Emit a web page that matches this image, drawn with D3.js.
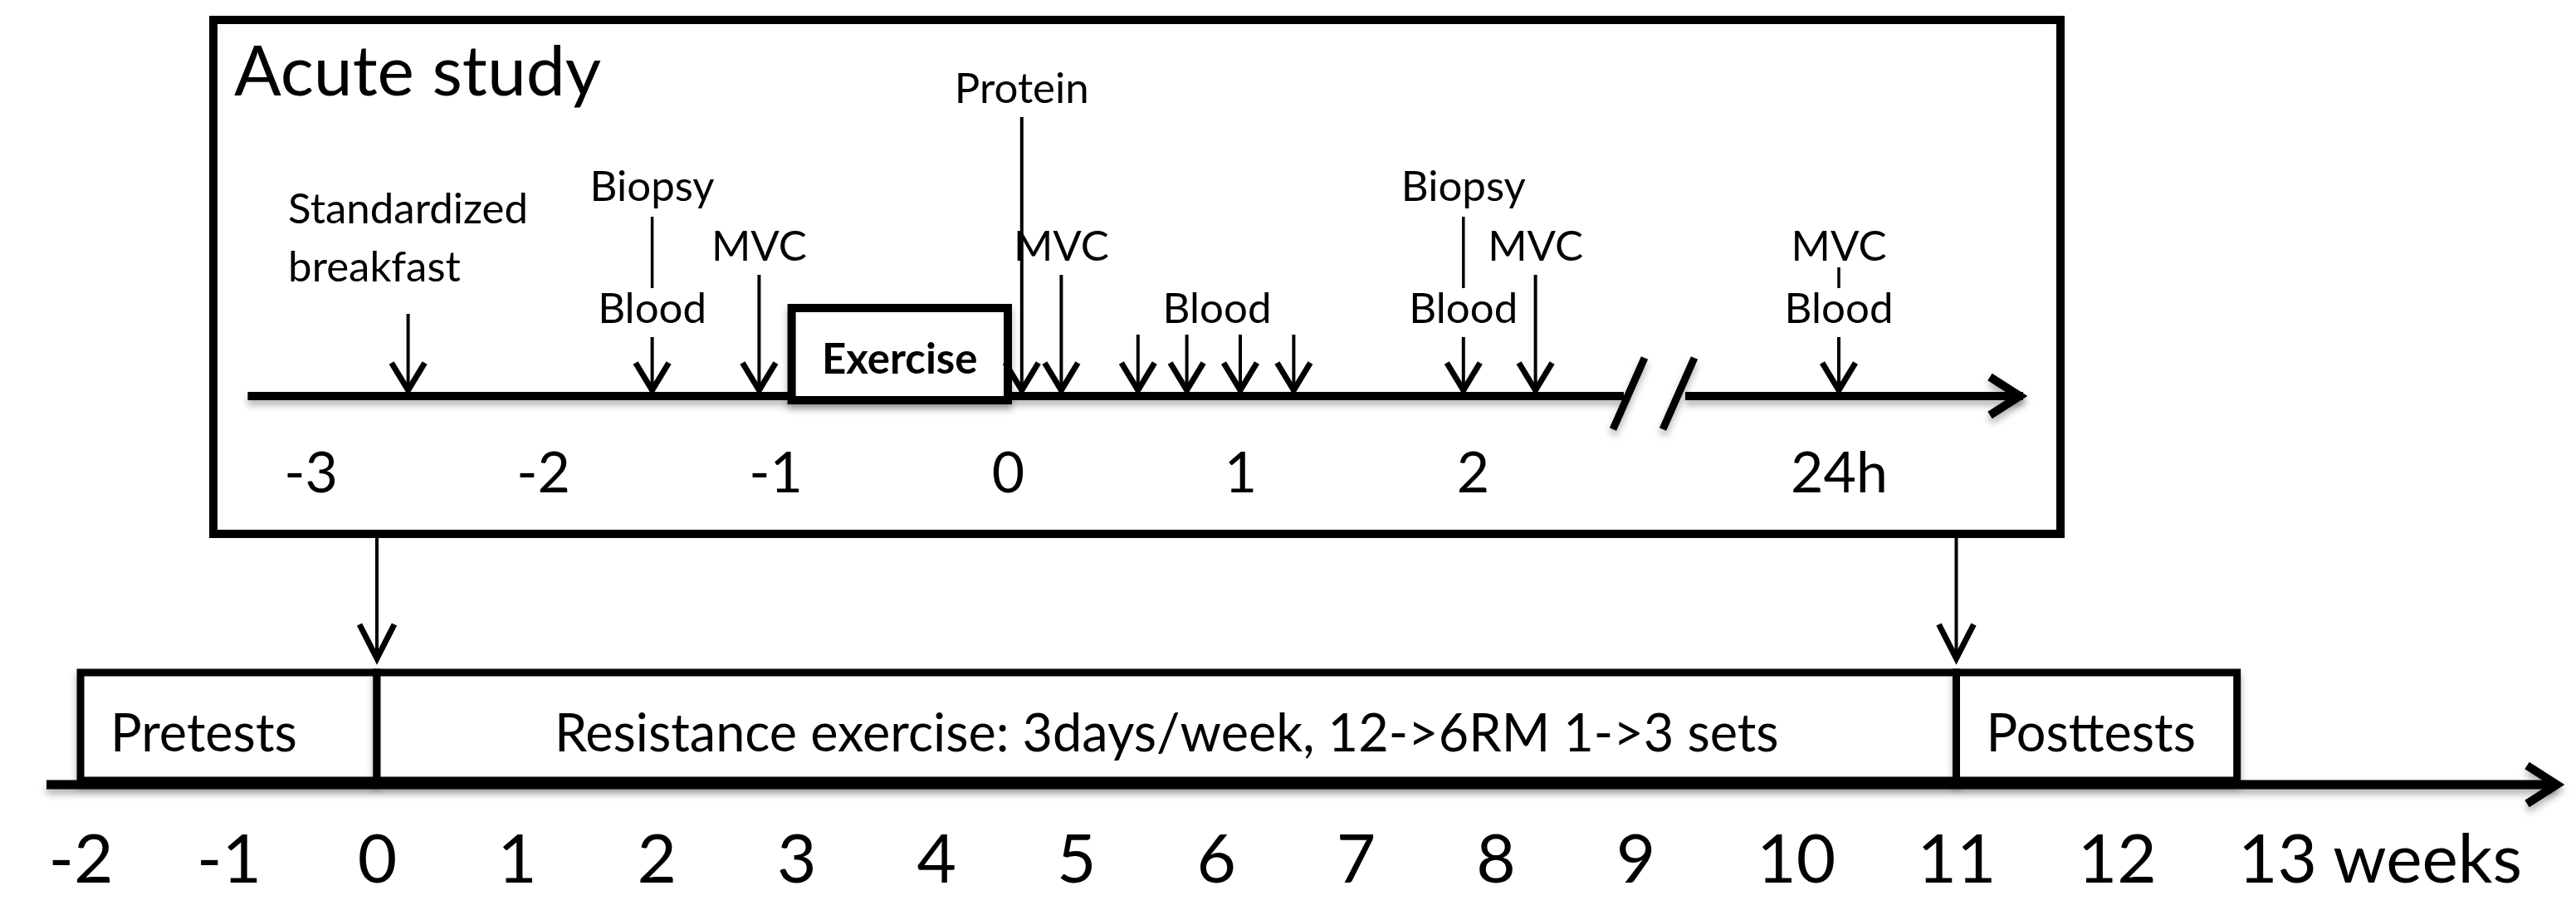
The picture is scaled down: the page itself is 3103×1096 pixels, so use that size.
<!DOCTYPE html>
<html>
<head>
<meta charset="utf-8">
<script src="https://cdn.jsdelivr.net/npm/d3@7"></script>
<style>
  body { margin: 0; background: #fff; }
  svg { display: block; }
  text { font-family: Lato, "Open Sans", sans-serif; fill: #000; }
</style>
</head>
<body>
<div id="timeline"></div>
<script>

// Study design: acute study (hours) on top, training weeks below

// Acute study data (hours relative to end of exercise)
const acuteTicks = [-3, -2, -1, 0, 1, 2, 24];
const eventLabels = ["Standardized\nbreakfast", "Biopsy|Blood", "MVC", "Protein", "MVC", "Blood", "Biopsy|Blood", "MVC", "MVC|Blood"];
const eventHours = [-2.58, -1.53, -1.07, 0.06, 0.23, 0.9, 1.96, 2.27, 24];
const bloodSampleHours = [0.56, 0.77, 1.0, 1.23];
const exerciseHours = [-0.93, 0];

// Training study data (weeks)
const weekTicks = [-2, -1, 0, 1, 2, 3, 4, 5, 6, 7, 8, 9, 10, 11, 12, 13];
const phaseNames = ["Pretests", "Resistance exercise: 3days/week, 12->6RM 1->3 sets", "Posttests"];
const phaseStart = [-2, 0, 11];
const phaseEnd = [0, 11, 12.75];
const acuteStudyWeeks = [0, 11];

// Dimensions
const width = 3103;
const height = 1096;
const acuteY = 477;      // acute time line
const weekY = 945;       // training time line
const box = {x: 257, y: 24, w: 2225, h: 619};
const labelSize = 51;

// label rows (baselines) for each measurement word
const rowBaseline = {Protein: 124, Biopsy: 242, MVC: 314, Blood: 389};

const svg = d3.select("#timeline")
  .append("svg")
  .attr("width", width)
  .attr("height", height)
  .attr("viewBox", [0, 0, width, height]);

// soft shadow like the original drawing (user space so flat lines keep it)
svg.append("defs").append("filter")
    .attr("id", "shadow")
    .attr("filterUnits", "userSpaceOnUse")
    .attr("x", 0).attr("y", 0)
    .attr("width", width).attr("height", height)
  .append("feDropShadow")
    .attr("dx", 0).attr("dy", 6)
    .attr("stdDeviation", 4)
    .attr("flood-color", "#000")
    .attr("flood-opacity", 0.3);

// Scales: broken axis for the acute study, slightly uneven weeks
const hourScale = d3.scaleLinear()
  .domain([-3, 2.65, 23.35, 24])
  .range([374, 1956, 2030, 2215]);

const weekScale = d3.scaleLinear()
  .domain([-2, 0, 9, 13])
  .range([97, 454, 1970, 2743]);

// draw a thin down arrow with an open V head
function downArrow(g, x, y0, y1, hw, hh) {
  g.append("line")
    .attr("x1", x).attr("x2", x)
    .attr("y1", y0).attr("y2", y1 - 2)
    .attr("stroke", "#000")
    .attr("stroke-width", 4);
  g.append("path")
    .attr("d", `M${x - hw},${y1 - hh}L${x},${y1 - 4}L${x + hw},${y1 - hh}`)
    .attr("fill", "none")
    .attr("stroke", "#000")
    .attr("stroke-width", 7)
    .attr("stroke-linejoin", "miter");
}

// gap under a word before a connector line starts
const descent = w => /[gjpqy]/.test(w) ? 19 : 8;

/*

  Acute study box

*/

svg.append("rect")
  .attr("x", box.x)
  .attr("y", box.y)
  .attr("width", box.w)
  .attr("height", box.h)
  .attr("fill", "none")
  .attr("stroke", "#000")
  .attr("stroke-width", 10);

svg.append("text")
  .attr("x", 282)
  .attr("y", 115)
  .attr("font-size", 84)
  .text("Acute study");

const acute = svg.append("g");

// time line in two pieces around the break
const lineSegs = [[-3.27, 2.65], [23.35, 24.78]];
acute.selectAll(".seg")
  .data(lineSegs)
  .enter()
  .append("line")
    .attr("class", "seg")
    .attr("x1", d => hourScale(d[0]))
    .attr("x2", d => hourScale(d[1]))
    .attr("y1", acuteY)
    .attr("y2", acuteY)
    .attr("stroke", "#000")
    .attr("stroke-width", 10)
    .attr("filter", "url(#shadow)");

// break marks
const breakX = [hourScale(2.65) + 6, hourScale(23.35) - 8];
acute.selectAll(".brk")
  .data(breakX)
  .enter()
  .append("line")
    .attr("class", "brk")
    .attr("x1", d => d + 19)
    .attr("y1", acuteY - 46)
    .attr("x2", d => d - 19)
    .attr("y2", acuteY + 40)
    .attr("stroke", "#000")
    .attr("stroke-width", 9)
    .attr("filter", "url(#shadow)");

// arrow head at the end of the time line
const endX = hourScale(24.78);
acute.append("path")
  .attr("d", `M${endX - 40},${acuteY - 23}L${endX - 4},${acuteY}L${endX - 40},${acuteY + 23}`)
  .attr("fill", "none")
  .attr("stroke", "#000")
  .attr("stroke-width", 10)
  .attr("filter", "url(#shadow)");

// exercise bout
acute.append("rect")
  .attr("x", hourScale(exerciseHours[0]))
  .attr("y", 371)
  .attr("width", hourScale(exerciseHours[1]) - hourScale(exerciseHours[0]))
  .attr("height", 111)
  .attr("fill", "#fff")
  .attr("stroke", "#000")
  .attr("stroke-width", 10)
  .attr("filter", "url(#shadow)");

acute.append("text")
  .attr("x", (hourScale(exerciseHours[0]) + hourScale(exerciseHours[1])) / 2)
  .attr("y", 450)
  .attr("text-anchor", "middle")
  .attr("font-size", 51)
  .attr("font-weight", "bold")
  .text("Exercise");

// event labels and arrows
eventLabels.forEach((label, i) => {
  const x = hourScale(eventHours[i]);
  let bottom;

  if (label.includes("|")) {
    // stacked measurements joined by a short line
    const parts = label.split("|");
    parts.forEach((p, j) => {
      acute.append("text")
        .attr("x", x)
        .attr("y", rowBaseline[p])
        .attr("text-anchor", "middle")
        .attr("font-size", labelSize)
        .text(p);
      if (j > 0) {
        const up = parts[j - 1];
        acute.append("line")
          .attr("x1", x).attr("x2", x)
          .attr("y1", rowBaseline[up] + descent(up))
          .attr("y2", rowBaseline[p] - 42)
          .attr("stroke", "#000")
          .attr("stroke-width", 3.5);
      }
    });
    bottom = rowBaseline[parts[parts.length - 1]];
  } else if (label.includes("\n")) {
    // two line label, left aligned, first line centred on the arrow
    const lines = label.split("\n");
    const t = acute.append("text")
      .attr("font-size", labelSize);
    lines.forEach((l, j) => {
      t.append("tspan")
        .attr("y", 339 - (lines.length - 1 - j) * 70)
        .text(l);
    });
    const w = t.select("tspan").node().getComputedTextLength();
    t.selectAll("tspan").attr("x", x - w / 2);
    bottom = 339 + 22;
  } else {
    acute.append("text")
      .attr("x", x)
      .attr("y", rowBaseline[label])
      .attr("text-anchor", "middle")
      .attr("font-size", labelSize)
      .text(label);
    bottom = rowBaseline[label];
  }

  if (label === "Blood") {
    bloodSampleHours.forEach(h => downArrow(acute, hourScale(h), bottom + 14, acuteY - 3, 20, 37));
  } else {
    downArrow(acute, x, bottom + 17, acuteY - 3, 20, 37);
  }
});

// hour axis labels
const hourAxis = svg.append("g")
  .attr("transform", "translate(0,593)")
  .call(d3.axisBottom(hourScale)
    .tickValues(acuteTicks)
    .tickSize(0)
    .tickFormat(d => d === 24 ? "24h" : String(d)));
hourAxis.select(".domain").remove();
hourAxis.attr("font-family", null).attr("font-size", null);
hourAxis.selectAll("text")
  .attr("y", 0)
  .attr("dy", 0)
  .attr("font-size", 68);

/*

  Training study

*/

const train = svg.append("g");

// arrows from the acute study box to week 0 and week 11
acuteStudyWeeks.forEach(w => {
  downArrow(train, weekScale(w), box.y + box.h + 5, 797, 21, 45);
});

// phase boxes
train.selectAll(".phase")
  .data(phaseNames)
  .enter()
  .append("rect")
    .attr("class", "phase")
    .attr("x", (d, i) => weekScale(phaseStart[i]))
    .attr("y", 810)
    .attr("width", (d, i) => weekScale(phaseEnd[i]) - weekScale(phaseStart[i]))
    .attr("height", 130)
    .attr("fill", "#fff")
    .attr("stroke", "#000")
    .attr("stroke-width", 9)
    .attr("filter", "url(#shadow)");

// short phases are written from the left edge, the long one is centred
train.selectAll(".phase-label")
  .data(phaseNames)
  .enter()
  .append("text")
    .attr("class", "phase-label")
    .attr("y", 905)
    .attr("font-size", 63)
    .text(d => d)
    .each(function(d, i) {
      const x0 = weekScale(phaseStart[i]);
      const x1 = weekScale(phaseEnd[i]);
      const w = this.getComputedTextLength();
      const pad = (x1 - x0 - w) / 2 > 120 ? (x1 - x0 - w) / 2 : 36;
      d3.select(this).attr("x", x0 + pad);
    });

// week time line with arrow head
const weekEnd = 3084;
train.append("line")
  .attr("x1", 56)
  .attr("x2", weekEnd - 6)
  .attr("y1", weekY)
  .attr("y2", weekY)
  .attr("stroke", "#000")
  .attr("stroke-width", 11)
  .attr("filter", "url(#shadow)");

train.append("path")
  .attr("d", `M${weekEnd - 40},${weekY - 23}L${weekEnd - 4},${weekY}L${weekEnd - 40},${weekY + 23}`)
  .attr("fill", "none")
  .attr("stroke", "#000")
  .attr("stroke-width", 10)
  .attr("filter", "url(#shadow)");

// week axis labels
const weekAxis = svg.append("g")
  .attr("transform", "translate(0,1063)")
  .call(d3.axisBottom(weekScale)
    .tickValues(weekTicks)
    .tickSize(0)
    .tickFormat(d => String(d)));
weekAxis.select(".domain").remove();
weekAxis.attr("font-family", null).attr("font-size", null);
weekAxis.selectAll("text")
  .attr("y", 0)
  .attr("dy", 0)
  .attr("font-size", 82);

// unit after the last tick
const lastTick = weekAxis.selectAll("text").filter(d => d === 13);
const halfW = lastTick.node().getComputedTextLength() / 2;
lastTick.attr("text-anchor", "start")
  .attr("x", -halfW)
  .append("tspan")
  .text(" weeks");

</script>
</body>
</html>
